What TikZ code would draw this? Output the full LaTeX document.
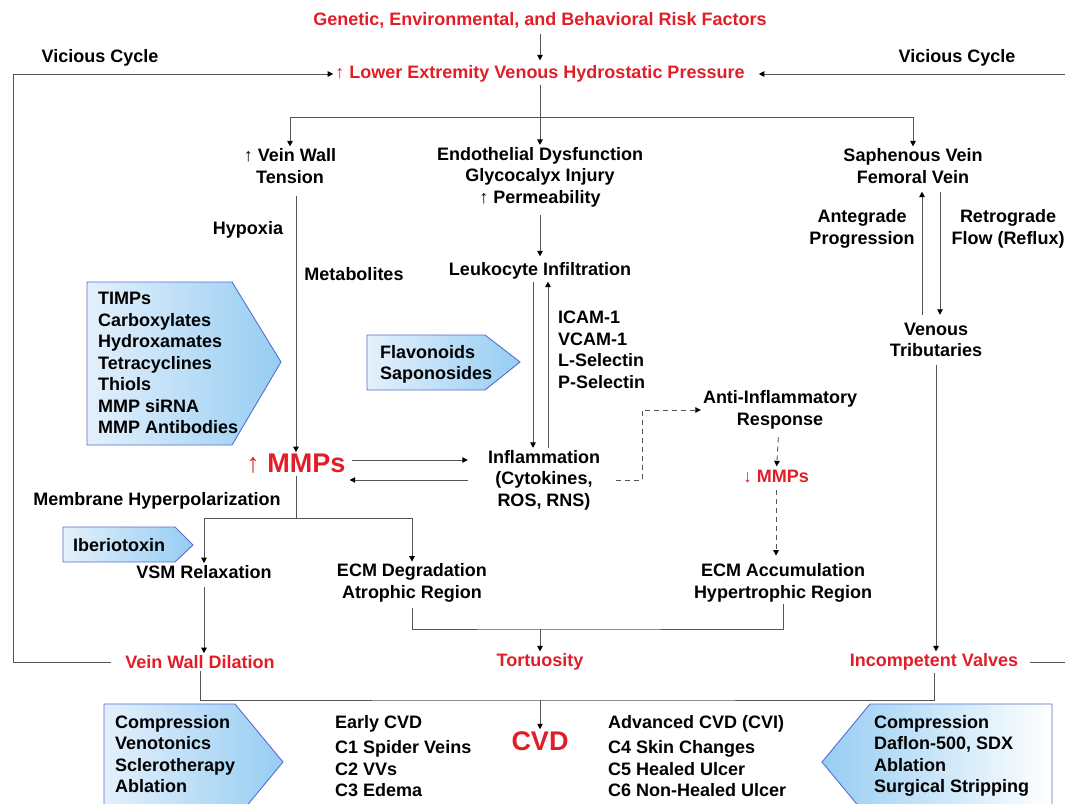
\documentclass[tikz,border=0pt]{standalone}
\usepackage{fontspec}
\setmainfont{Liberation Sans}
\usetikzlibrary{arrows.meta,positioning,calc}
\definecolor{redtxt}{RGB}{225,30,40}
\definecolor{lineclr}{RGB}{85,85,85}
\definecolor{calloutblue}{RGB}{150,205,242}
\definecolor{calloutpale}{RGB}{228,240,252}
\definecolor{calloutedge}{RGB}{85,110,210}

\begin{document}
\begin{tikzpicture}[x=1pt,y=-1pt,
  >={Triangle[length=5.5pt,width=5.5pt,color=black]},
  every node/.style={font=\fontsize{18}{21.5}\selectfont\bfseries, inner sep=2pt, align=center},
  hot/.style={text=redtxt},
  big/.style={text=redtxt, font=\fontsize{27}{30}\selectfont\bfseries},
  list/.style={align=left, anchor=north west},
  line/.style={draw=lineclr, line width=0.9pt},
  arr/.style={line, ->},
  darr/.style={line, ->, dash pattern=on 5pt off 4pt},
  callout/.style={draw=calloutedge, line width=0.9pt, left color=calloutpale, middle color=white, right color=calloutblue},
  rcallout/.style={callout, left color=calloutblue, middle color=white!70!calloutblue, right color=white},
  ]
  \useasboundingbox (0,0) rectangle (1065,803);

  % callouts
  \path[callout] (87,282) -- (232,282) -- (281,362) -- (232,445) -- (87,445) -- cycle;
  \path[callout] (367,335) -- (485,335) -- (520,362) -- (485,390) -- (367,390) -- cycle;
  \path[callout] (63,527) -- (175,527) -- (193,545) -- (175,562) -- (63,562) -- cycle;
  \begin{scope}
    \clip (0,0) rectangle (1065,803);
    \path[callout] (104,704) -- (235,704) -- (283,762) -- (235,820) -- (104,820) -- cycle;
    \path[rcallout] (1052,704) -- (870,704) -- (822,762) -- (870,820) -- (1052,820) -- cycle;
  \end{scope}

  \node[list] (inhib) at (96,290) {TIMPs\\Carboxylates\\Hydroxamates\\Tetracyclines\\Thiols\\MMP siRNA\\MMP Antibodies};
  \node[list] (flav)  at (378,343) {Flavonoids\\Saponosides};
  \node[list] (iber)  at (71,536)  {Iberiotoxin};
  \node[list] (ltx)   at (113,713) {Compression\\Venotonics\\Sclerotherapy\\Ablation};
  \node[list] (rtx)   at (872,713) {Compression\\Daflon-500, SDX\\Ablation\\Surgical Stripping};

  % main nodes
  \node[hot] (gen)  at (540,20)  {Genetic, Environmental, and Behavioral Risk Factors};
  \node[hot] (lep)  at (540,74)  {↑ Lower Extremity Venous Hydrostatic Pressure};
  \node      (vc1)  at (100,58)  {Vicious Cycle};
  \node      (vc2)  at (957,58)  {Vicious Cycle};
  \node      (vwt)  at (290,166) {↑ Vein Wall\\Tension};
  \node      (endo) at (540,177) {Endothelial Dysfunction\\Glycocalyx Injury\\↑ Permeability};
  \node      (saph) at (913,166) {Saphenous Vein\\Femoral Vein};
  \node      (hyp)  at (248,230) {Hypoxia};
  \node      (meta) at (354,274) {Metabolites};
  \node      (leuk) at (540,271) {Leukocyte Infiltration};
  \node[list] (adh) at (556,309) {ICAM-1\\VCAM-1\\L-Selectin\\P-Selectin};
  \node      (infl) at (544,480) {Inflammation\\(Cytokines,\\ROS, RNS)};
  \node[big] (mmps) at (296,464) {↑ MMPs};
  \node      (anti) at (780,410) {Anti-Inflammatory\\Response};
  \node[hot] (dmmp) at (776,477) {↓ MMPs};
  \node      (ecma) at (783,583) {ECM Accumulation\\Hypertrophic Region};
  \node      (ante) at (862,229) {Antegrade\\Progression};
  \node      (retro) at (1008,229) {Retrograde\\Flow (Reflux)};
  \node      (trib) at (936,340) {Venous\\Tributaries};
  \node      (memb) at (157,501) {Membrane Hyperpolarization};
  \node      (vsm)  at (204,572) {VSM Relaxation};
  \node      (ecmd) at (412,583) {ECM Degradation\\Atrophic Region};
  \node[hot] (vwd)  at (200,662) {Vein Wall Dilation};
  \node[hot] (tort) at (540,662) {Tortuosity};
  \node[hot] (iv)   at (934,662) {Incompetent Valves};
  \node[big] (cvd)  at (540,741) {CVD};
  \node[list] (early) at (333,713) {Early CVD\\[4pt]C1 Spider Veins\\C2 VVs\\C3 Edema};
  \node[list] (adv)   at (606,713) {Advanced CVD (CVI)\\[4pt]C4 Skin Changes\\C5 Healed Ulcer\\C6 Non-Healed Ulcer};

  \coordinate (br) at (540,117);
  \coordinate (mj) at (296,518);
  \coordinate (tj) at (540,629);
  \coordinate (cj) at (540,700);
  \coordinate (lc) at (13,662);
  \coordinate (rc) at (1068,662);

  % connectors
  \draw[arr, shorten <=4pt, shorten >=3pt] (gen) -- (lep);
  \draw[line] (lep) -- (br);
  \draw[arr] (br) -| (vwt);
  \draw[arr] (br) -- (endo);
  \draw[arr] (br) -| (saph);
  \draw[arr, shorten <=10pt] (vwt.south -| mmps.north) -- (mmps.north);
  \draw[arr, shorten <=6pt, shorten >=4pt] (endo) -- (leuk);
  \draw[arr] ([xshift=-7pt]leuk.south) -- ([xshift=-7pt]leuk.south |- infl.north);
  \draw[arr] ([xshift=8pt]leuk.south |- infl.north) -- ([xshift=8pt]leuk.south);
  \draw[arr, shorten <=4pt, shorten >=18pt] ([yshift=20pt]infl.west -| mmps.east) -- ([yshift=20pt]infl.west);
  \draw[arr, shorten <=18pt, shorten >=2pt] (infl.west) -- (infl.west -| mmps.east);
  \draw[darr, shorten <=14pt] (infl.east) -- ++(40,0) |- (anti);
  \draw[darr, shorten <=6pt, shorten >=2pt] (anti) -- (dmmp);
  \draw[darr, shorten <=4pt, shorten >=6pt] (dmmp) -- (dmmp |- ecma.north);
  \draw[arr, shorten <=6pt, shorten >=6pt] ([xshift=-14pt]trib.north) -- ([xshift=-14pt]trib.north |- saph.south);
  \draw[arr, shorten <=6pt, shorten >=6pt] ([xshift=4pt]trib.north |- saph.south) -- ([xshift=4pt]trib.north);
  \draw[arr, shorten <=6pt] (trib) -- (trib |- iv.north);
  \draw[line] (mmps.south) -- (mj);
  \draw[arr] (mj) -| (vsm);
  \draw[arr] (mj) -| (ecmd);
  \draw[arr, shorten <=6pt] (vsm) -- (vsm |- vwd.north);
  \draw[line, shorten <=4pt] (ecmd) |- (tj) -| (ecma);
  \draw[arr] (tj) -- (tort);
  \draw[line] (vwd) |- (cj) -| (iv);
  \draw[arr] (cj) -- (cvd);
  \draw[arr, shorten <=12pt] (vwd) -- (lc) |- (lep);
  \draw[arr, shorten <=10pt, shorten >=12pt] (iv) -- (rc) |- (lep);
\end{tikzpicture}
\end{document}
